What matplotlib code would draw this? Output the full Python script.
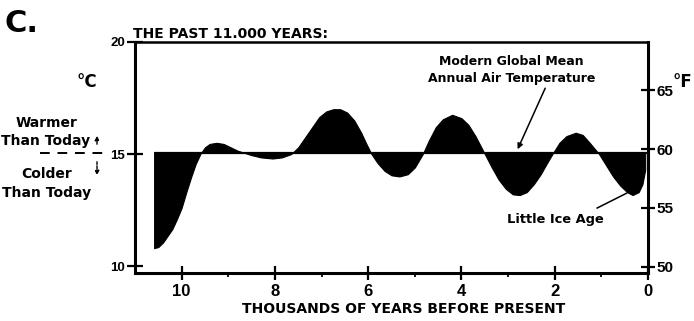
import matplotlib
matplotlib.use("Agg")
import matplotlib.pyplot as plt

plt.rcParams['font.family'] = ['DejaVu Sans']
plt.rcParams['font.weight'] = 'bold'
TICKFONT = ['Liberation Sans', 'DejaVu Sans']

# thousands of years before present / temperature in degrees C
kyr = [10.59, 10.50, 10.40, 10.30, 10.20, 10.10, 10.00, 9.90, 9.80, 9.70,
       9.60, 9.50, 9.40, 9.25, 9.10, 8.95, 8.80, 8.65, 8.50, 8.30,
       8.05, 7.85, 7.65, 7.50, 7.35, 7.20, 7.05, 6.90, 6.75, 6.60,
       6.45, 6.30, 6.15, 6.05, 5.93, 5.80, 5.65, 5.50, 5.33, 5.15,
       5.00, 4.83, 4.70, 4.55, 4.40, 4.20, 4.00, 3.85, 3.70, 3.50,
       3.35, 3.20, 3.05, 2.90, 2.75, 2.60, 2.45, 2.30, 2.15, 2.05,
       1.90, 1.75, 1.55, 1.40, 1.25, 1.05, 0.90, 0.75, 0.60, 0.45,
       0.33, 0.20, 0.12, 0.06]
temp_c = [10.80, 10.85, 11.05, 11.35, 11.65, 12.10, 12.60, 13.30, 13.95, 14.55,
          15.00, 15.30, 15.45, 15.50, 15.45, 15.30, 15.15, 15.05, 14.95, 14.85,
          14.80, 14.85, 15.00, 15.30, 15.75, 16.20, 16.65, 16.90, 17.00, 17.00,
          16.85, 16.50, 15.95, 15.50, 15.00, 14.60, 14.25, 14.05, 14.00, 14.10,
          14.40, 15.00, 15.60, 16.20, 16.55, 16.75, 16.60, 16.30, 15.80, 15.00,
          14.40, 13.85, 13.45, 13.20, 13.17, 13.30, 13.65, 14.10, 14.65, 15.00,
          15.50, 15.80, 15.95, 15.85, 15.50, 15.00, 14.50, 14.00, 13.60, 13.30,
          13.17, 13.30, 13.65, 14.30]
modern_mean = 15.05

x_ticks = [10, 8, 6, 4, 2, 0]
x_minor = [9, 7, 5, 3, 1]
c_ticks = [10, 15, 20]
f_ticks = [50, 55, 60, 65]

W, H = 694, 321
fig = plt.figure(figsize=(W / 100, H / 100), dpi=100)
ax = fig.add_axes([135 / W, 1 - 273 / H, (648 - 135) / W, (273 - 42) / H])

ax.fill_between(kyr, temp_c, modern_mean, color='black', lw=0.8)
ax.hlines(modern_mean, kyr[0], 0, color='black', lw=1.6)

ax.set_xlim(11, 0)
ax.set_ylim(9.69, 20)
ax.set_xticks(x_ticks)
ax.set_xticks(x_minor, minor=True)
ax.set_xticklabels([str(t) for t in x_ticks], fontsize=12, fontweight='bold', family=TICKFONT)
ax.set_yticks(c_ticks)
ax.set_yticklabels([str(t) for t in c_ticks], fontsize=9.5, fontweight='bold', family=TICKFONT)
ax.tick_params(axis='x', which='major', direction='inout', length=10, width=1.6, pad=3)
ax.tick_params(axis='x', which='minor', direction='out', length=3, width=1.3)
ax.tick_params(axis='y', direction='inout', length=12, width=1.6, pad=1)
for s in ['left', 'bottom', 'right']:
    ax.spines[s].set_linewidth(2.2)
ax.spines['top'].set_linewidth(1.8)

axr = ax.twinx()
axr.set_ylim(49.49, 69.07)
axr.set_yticks(f_ticks)
axr.set_yticklabels([str(t) for t in f_ticks], fontsize=11, fontweight='bold', family=TICKFONT)
axr.tick_params(axis='y', direction='inout', length=10, width=1.6, pad=1)
for s in axr.spines.values():
    s.set_visible(False)


def fx(px):
    return px / W


def fy(py):
    return 1 - py / H


fig.text(fx(5), fy(32), "C.", fontsize=22, fontweight='bold', va='baseline')
fig.text(fx(133), fy(38), "THE PAST 11.000 YEARS:", fontsize=10, fontweight='bold', va='baseline')
fig.text(fx(76), fy(87), "°C", fontsize=12, fontweight='bold', va='baseline')
fig.text(fx(672), fy(87), "°F", fontsize=12, fontweight='bold', va='baseline')

fig.text(fx(47), fy(127), "Warmer", fontsize=10, fontweight='bold', ha='center', va='baseline')
fig.text(fx(46), fy(145), "Than Today", fontsize=10, fontweight='bold', ha='center', va='baseline')
fig.text(fx(47), fy(178), "Colder", fontsize=10, fontweight='bold', ha='center', va='baseline')
fig.text(fx(47), fy(197), "Than Today", fontsize=10, fontweight='bold', ha='center', va='baseline')

# dashed reference line and arrows at the left
fig.add_artist(plt.Line2D([fx(40), fx(104)], [fy(153), fy(153)], color='black',
                          lw=1.4, dashes=(5, 4)))
ax.annotate("", xy=(fx(97), fy(133)), xytext=(fx(97), fy(147)), xycoords='figure fraction',
            arrowprops=dict(arrowstyle='-|>', color='black', lw=1, mutation_scale=6,
                            linestyle=(0, (2, 1))), annotation_clip=False)
ax.annotate("", xy=(fx(97), fy(178)), xytext=(fx(97), fy(159)), xycoords='figure fraction',
            arrowprops=dict(arrowstyle='-|>', color='black', lw=1, mutation_scale=6,
                            linestyle=(0, (2, 1))), annotation_clip=False)

ax.text(2.93, 18.1, "Modern Global Mean\nAnnual Air Temperature", fontsize=9,
        fontweight='bold', ha='center', va='bottom', linespacing=1.35)
ax.annotate("", xy=(2.82, 15.1), xytext=(2.18, 18.05),
            arrowprops=dict(arrowstyle='-|>', color='black', lw=1.1, mutation_scale=8))

ax.text(1.98, 11.9, "Little Ice Age", fontsize=9.4, fontweight='bold', ha='center', va='baseline')
ax.plot([1.09, 0.46], [12.59, 13.25], color='black', lw=1.1)

fig.text(fx(404), fy(313), "THOUSANDS OF YEARS BEFORE PRESENT", fontsize=10,
         fontweight='bold', ha='center', va='baseline')

fig.savefig("out.png", dpi=100)
